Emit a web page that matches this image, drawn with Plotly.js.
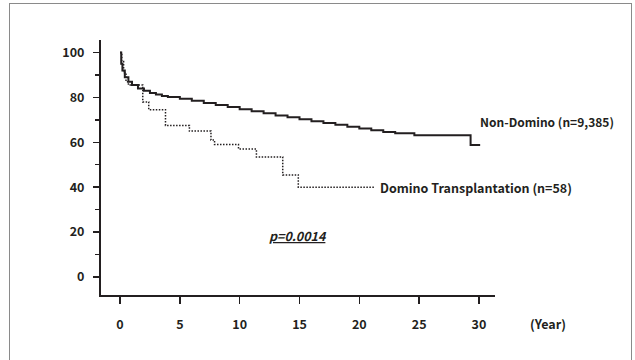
<!DOCTYPE html>
<html>
<head>
<meta charset="utf-8">
<script src="https://cdn.plot.ly/plotly-3.0.1.min.js"></script>
<style>
html,body{margin:0;padding:0;background:#fff;overflow:hidden;}
#frame{position:absolute;left:9px;top:3px;width:623px;height:400px;border:1px solid #8a8a8a;box-sizing:border-box;}
#chart{position:absolute;left:0;top:0;width:635px;height:360px;}
</style>
</head>
<body>
<div id="frame"></div>
<div id="chart"></div>
<script>
// Non-Domino (n=9,385) Kaplan-Meier survival (%)
const nonDominoYears = [0, 0.1, 0.2, 0.4, 0.7, 1.0, 1.5, 2.0, 2.5, 3.0, 3.5, 4.0, 5.0, 6.0, 7.0, 8.0, 9.0, 10.0, 11.0, 12.0, 13.0, 14.0, 15.0, 16.0, 17.0, 18.0, 19.0, 20.0, 21.0, 22.0, 23.0, 24.6, 29.3, 30.1];
const nonDominoSurv  = [100, 95, 92, 89, 87, 85.5, 84, 83, 82, 81.3, 80.7, 80.2, 79.4, 78.5, 77.5, 76.6, 75.8, 74.8, 73.9, 73, 72, 71.2, 70.3, 69.4, 68.6, 67.8, 67, 66.2, 65.4, 64.6, 64, 63.2, 58.8, 58.8];

// Domino Transplantation (n=58)
const dominoYears = [0, 0.15, 0.3, 0.5, 0.7, 1.9, 2.4, 3.8, 5.8, 7.6, 7.9, 9.9, 11.4, 13.6, 14.9, 21.3];
const dominoSurv  = [100, 96, 91, 87, 85.5, 78, 74.5, 67.5, 65, 61, 59, 57, 53.5, 45.5, 40, 40];

const xTicks = [0, 5, 10, 15, 20, 25, 30];
const yTicks = [0, 20, 40, 60, 80, 100];

const ink = '#231f20';
const fontFam = '"Noto Sans CJK JP", "Liberation Sans", Arial, sans-serif';

const traces = [
  {x: nonDominoYears, y: nonDominoSurv, type: 'scatter', mode: 'lines',
   line: {shape: 'hv', color: ink, width: 2}, name: 'Non-Domino', hoverinfo: 'skip'},
  {x: dominoYears, y: dominoSurv, type: 'scatter', mode: 'lines',
   line: {shape: 'hv', color: ink, width: 1.5, dash: '1.5px,1.5px'}, name: 'Domino', hoverinfo: 'skip'}
];

const layout = {
  width: 635, height: 360,
  margin: {l: 101, r: 140, t: 40, b: 65, pad: 0},
  paper_bgcolor: 'rgba(0,0,0,0)', plot_bgcolor: 'rgba(0,0,0,0)',
  showlegend: false,
  font: {family: fontFam, size: 12, color: ink, weight: 'bold'},
  xaxis: {
    range: [-1.59, 31.34], showgrid: false, zeroline: false,
    showline: true, linecolor: ink, linewidth: 2,
    ticks: 'outside', ticklen: 7, tickwidth: 1.5, tickcolor: ink,
    tickmode: 'array', tickvals: xTicks, ticktext: xTicks.map(String),
    ticklabelstandoff: 10,
    tickfont: {family: fontFam, size: 12.5, color: ink, weight: 'bold'}
  },
  yaxis: {
    range: [-8.02, 105.6], showgrid: false, zeroline: false,
    showline: true, linecolor: ink, linewidth: 2,
    ticks: 'outside', ticklen: 6, tickwidth: 1.5, tickcolor: ink,
    tickmode: 'array', tickvals: yTicks, ticktext: yTicks.map(String),
    ticklabelstandoff: 6,
    minor: {tickvals: [10, 30, 50, 70, 90], ticks: 'outside', ticklen: 4, tickwidth: 1.2, tickcolor: ink, showgrid: false},
    tickfont: {family: fontFam, size: 12.5, color: ink, weight: 'bold'}
  },
  annotations: [
    {x: 29.9, y: 69.5, xref: 'x', yref: 'y', xanchor: 'left', yanchor: 'middle', showarrow: false,
     text: 'Non-Domino (n=9,385)', font: {family: fontFam, size: 12, color: ink, weight: 'bold'}},
    {x: 21.6, y: 40, xref: 'x', yref: 'y', xanchor: 'left', yanchor: 'middle', showarrow: false,
     text: 'Domino Transplantation (n=58)', font: {family: fontFam, size: 12.5, color: ink, weight: 'bold'}},
    {x: 12.3, y: 18.7, xref: 'x', yref: 'y', xanchor: 'left', yanchor: 'middle', showarrow: false,
     text: '<u><i>p=0.0014</i></u>', font: {family: fontFam, size: 12.5, color: ink, weight: 'bold'}},
    {x: 1.1345, y: -0.11, xref: 'paper', yref: 'paper', xanchor: 'center', yanchor: 'middle', showarrow: false,
     text: '(Year)', font: {family: fontFam, size: 12.5, color: ink, weight: 'bold'}}
  ]
};

Plotly.newPlot('chart', traces, layout, {staticPlot: true, displayModeBar: false});
</script>
</body>
</html>
